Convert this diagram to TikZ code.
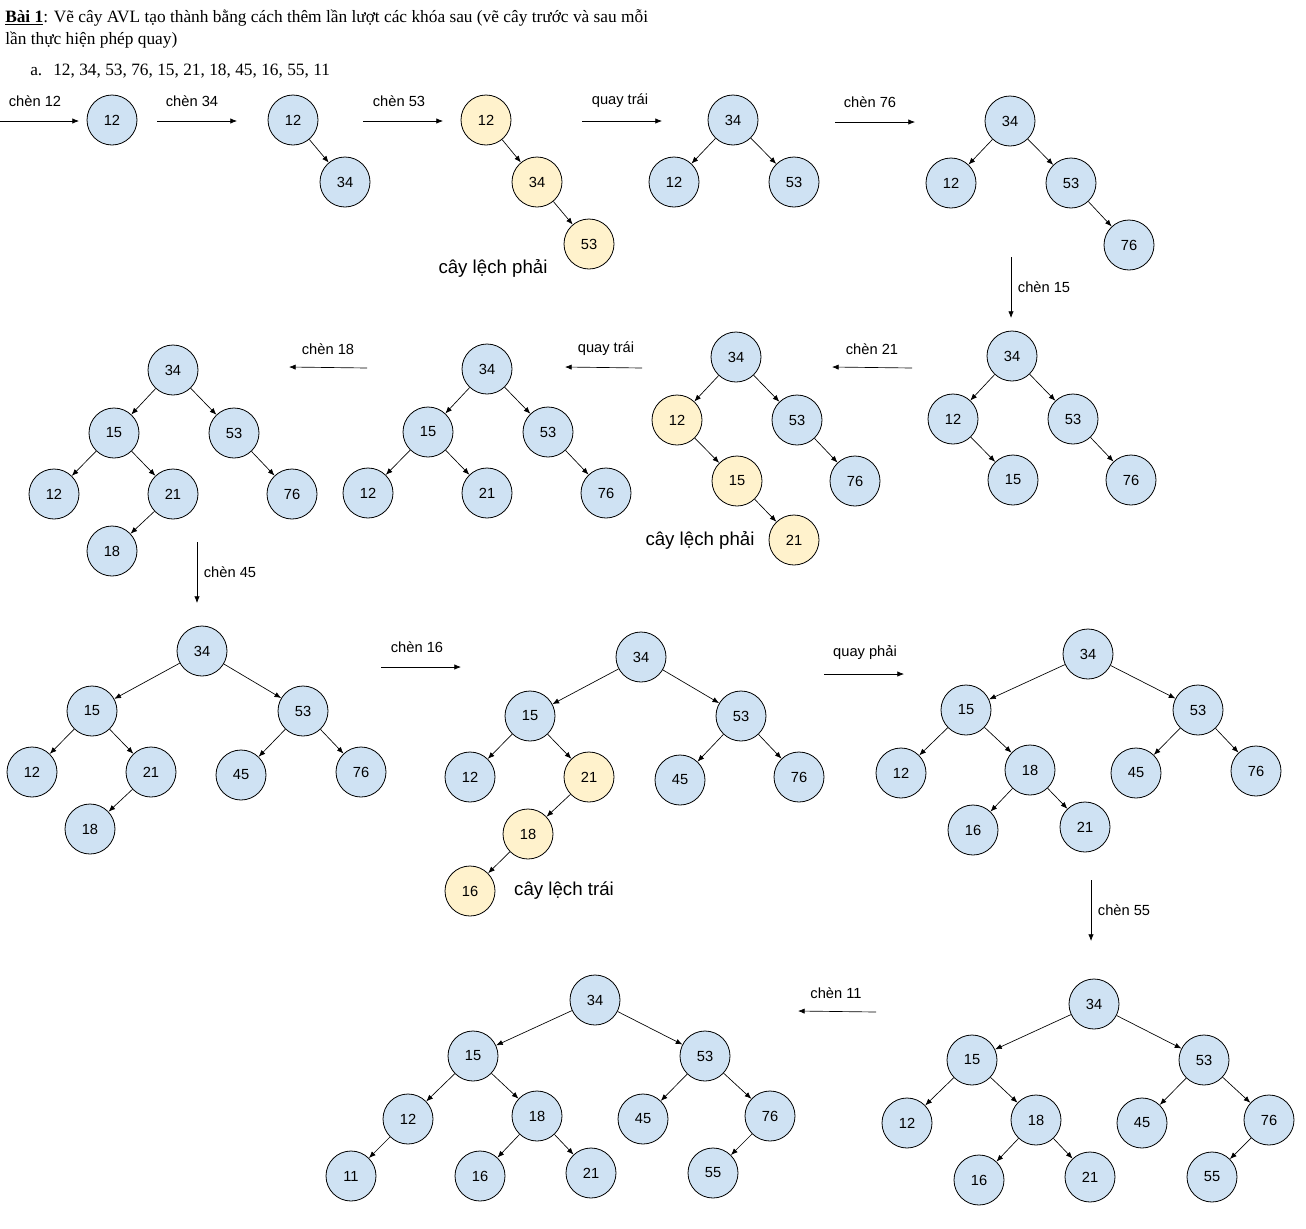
\documentclass[tikz,border=0pt]{standalone}
\usepackage{fontspec}
\setmainfont{Liberation Serif}
\newfontfamily\ar{Liberation Sans}
\usetikzlibrary{arrows.meta}
\definecolor{nblue}{HTML}{CFE2F3}
\definecolor{nyellow}{HTML}{FFF2CC}
\tikzset{
 nd/.style={circle, draw, line width=0.6pt, fill=nblue, minimum size=37.5pt, inner sep=0pt, font=\ar\fontsize{11}{13}\selectfont},
 hl/.style={nd, fill=nyellow},
 ed/.style={-{Latex[length=5pt,width=4pt]}, line width=0.5pt},
 lb/.style={font=\ar\fontsize{11}{13}\selectfont, inner sep=0pt},
 big/.style={font=\ar\fontsize{14}{16}\selectfont, inner sep=0pt},
 hd/.style={anchor=base west, inner sep=0pt, font=\fontsize{13}{15}\selectfont},
}
\begin{document}
\begin{tikzpicture}[x=0.75pt,y=-0.75pt]
\useasboundingbox (0,0) rectangle (1306,1228);
% header
\node[hd] (h1) at (5,22) {\textbf{\underline{Bài 1}}: Vẽ cây AVL tạo thành bằng cách thêm lần lượt các khóa sau (vẽ cây trước và sau mỗi};
\node[hd] (h2) at (5,44) {lần thực hiện phép quay)};
\node[hd] (h3) at (30,75) {a.};
\node[hd] (h4) at (53,75) {12, 34, 53, 76, 15, 21, 18, 45, 16, 55, 11};

% ---------- Row 1
\coordinate (s1a) at (0,121); \coordinate (s1b) at (79,121);
\draw[ed] (s1a) -- (s1b); \node[lb] (l1) at (35,101) {chèn 12};
\node[nd] (a1) at (112,120) {12};
\coordinate (s2a) at (157,121); \coordinate (s2b) at (237,121);
\draw[ed] (s2a) -- (s2b); \node[lb] (l2) at (192,101) {chèn 34};
\node[nd] (b1) at (293,120) {12};
\node[nd] (b2) at (345,182) {34};
\draw[ed] (b1) -- (b2);
\coordinate (s3a) at (363,121); \coordinate (s3b) at (443,121);
\draw[ed] (s3a) -- (s3b); \node[lb] (l3) at (399,101) {chèn 53};
\node[hl] (c1) at (486,120) {12};
\node[hl] (c2) at (537,182) {34};
\node[hl] (c3) at (589,244) {53};
\draw[ed] (c1) -- (c2); \draw[ed] (c2) -- (c3);
\node[big] (cl1) at (493,268) {cây lệch phải};
\coordinate (s4a) at (582,121); \coordinate (s4b) at (662,121);
\draw[ed] (s4a) -- (s4b); \node[lb] (l4) at (620,101) {quay trái};
\node[nd] (d1) at (733,120) {34};
\node[nd] (d2) at (674,182) {12};
\node[nd] (d3) at (794,182) {53};
\draw[ed] (d1) -- (d2); \draw[ed] (d1) -- (d3);
\coordinate (s5a) at (835,122); \coordinate (s5b) at (915,122);
\draw[ed] (s5a) -- (s5b); \node[lb] (l5) at (870,102) {chèn 76};
\node[nd] (e1) at (1010,121) {34};
\node[nd] (e2) at (951,183) {12};
\node[nd] (e3) at (1071,183) {53};
\node[nd] (e4) at (1129,245) {76};
\draw[ed] (e1) -- (e2); \draw[ed] (e1) -- (e3); \draw[ed] (e3) -- (e4);
\coordinate (s6a) at (1011,257); \coordinate (s6b) at (1011,318);
\draw[ed] (s6a) -- (s6b); \node[lb] (l6) at (1044,287) {chèn 15};

% ---------- Row 2
\node[nd] (f1) at (1012,356) {34};
\node[nd] (f2) at (953,419) {12};
\node[nd] (f3) at (1073,419) {53};
\node[nd] (f4) at (1013,480) {15};
\node[nd] (f5) at (1131,480) {76};
\draw[ed] (f1) -- (f2); \draw[ed] (f1) -- (f3); \draw[ed] (f2) -- (f4); \draw[ed] (f3) -- (f5);
\coordinate (s7a) at (912,368); \coordinate (s7b) at (832,367);
\draw[ed] (s7a) -- (s7b); \node[lb] (l7) at (872,349) {chèn 21};
\node[nd] (g1) at (736,357) {34};
\node[hl] (g2) at (677,420) {12};
\node[nd] (g3) at (797,420) {53};
\node[hl] (g4) at (737,481) {15};
\node[nd] (g5) at (855,481) {76};
\node[hl] (g6) at (794,540) {21};
\draw[ed] (g1) -- (g2); \draw[ed] (g1) -- (g3); \draw[ed] (g2) -- (g4); \draw[ed] (g3) -- (g5); \draw[ed] (g4) -- (g6);
\node[big] (cl2) at (700,540) {cây lệch phải};
\coordinate (s8a) at (642,368); \coordinate (s8b) at (565,367);
\draw[ed] (s8a) -- (s8b); \node[lb] (l8) at (606,349) {quay trái};
\node[nd] (h1n) at (487,369) {34};
\node[nd] (h2n) at (428,432) {15};
\node[nd] (h3n) at (548,432) {53};
\node[nd] (h4n) at (368,493) {12};
\node[nd] (h5n) at (487,493) {21};
\node[nd] (h6n) at (606,493) {76};
\draw[ed] (h1n) -- (h2n); \draw[ed] (h1n) -- (h3n); \draw[ed] (h2n) -- (h4n); \draw[ed] (h2n) -- (h5n); \draw[ed] (h3n) -- (h6n);
\coordinate (s9a) at (367,368); \coordinate (s9b) at (289,367);
\draw[ed] (s9a) -- (s9b); \node[lb] (l9) at (328,349) {chèn 18};
\node[nd] (i1) at (173,370) {34};
\node[nd] (i2) at (114,433) {15};
\node[nd] (i3) at (234,433) {53};
\node[nd] (i4) at (54,494) {12};
\node[nd] (i5) at (173,494) {21};
\node[nd] (i6) at (292,494) {76};
\node[nd] (i7) at (112,551) {18};
\draw[ed] (i1) -- (i2); \draw[ed] (i1) -- (i3); \draw[ed] (i2) -- (i4); \draw[ed] (i2) -- (i5); \draw[ed] (i3) -- (i6); \draw[ed] (i5) -- (i7);
\coordinate (s10a) at (197,542); \coordinate (s10b) at (197,603);
\draw[ed] (s10a) -- (s10b); \node[lb] (l10) at (230,572) {chèn 45};

% ---------- Row 3
\node[nd] (j1) at (202,651) {34};
\node[nd] (j2) at (92,711) {15};
\node[nd] (j3) at (303,711) {53};
\node[nd] (j4) at (32,772) {12};
\node[nd] (j5) at (151,772) {21};
\node[nd] (j6) at (241,775) {45};
\node[nd] (j7) at (361,772) {76};
\node[nd] (j8) at (90,829) {18};
\draw[ed] (j1) -- (j2); \draw[ed] (j1) -- (j3); \draw[ed] (j2) -- (j4); \draw[ed] (j2) -- (j5); \draw[ed] (j3) -- (j6); \draw[ed] (j3) -- (j7); \draw[ed] (j5) -- (j8);
\coordinate (s11a) at (381,667); \coordinate (s11b) at (461,667);
\draw[ed] (s11a) -- (s11b); \node[lb] (l11) at (417,647) {chèn 16};
\node[nd] (k1) at (641,657) {34};
\node[nd] (k2) at (530,716) {15};
\node[nd] (k3) at (741,716) {53};
\node[nd] (k4) at (470,777) {12};
\node[hl] (k5) at (589,777) {21};
\node[nd] (k6) at (680,780) {45};
\node[nd] (k7) at (799,777) {76};
\node[hl] (k8) at (528,834) {18};
\node[hl] (k9) at (470,891) {16};
\draw[ed] (k1) -- (k2); \draw[ed] (k1) -- (k3); \draw[ed] (k2) -- (k4); \draw[ed] (k2) -- (k5); \draw[ed] (k3) -- (k6); \draw[ed] (k3) -- (k7); \draw[ed] (k5) -- (k8); \draw[ed] (k8) -- (k9);
\node[big] (cl3) at (564,891) {cây lệch trái};
\coordinate (s12a) at (824,674); \coordinate (s12b) at (904,674);
\draw[ed] (s12a) -- (s12b); \node[lb] (l12) at (865,653) {quay phải};
\node[nd] (m1) at (1088,654) {34};
\node[nd] (m2) at (966,710) {15};
\node[nd] (m3) at (1198,710) {53};
\node[nd] (m4) at (901,773) {12};
\node[nd] (m5) at (1030,770) {18};
\node[nd] (m6) at (1136,773) {45};
\node[nd] (m7) at (1256,771) {76};
\node[nd] (m8) at (973,830) {16};
\node[nd] (m9) at (1085,827) {21};
\draw[ed] (m1) -- (m2); \draw[ed] (m1) -- (m3); \draw[ed] (m2) -- (m4); \draw[ed] (m2) -- (m5); \draw[ed] (m3) -- (m6); \draw[ed] (m3) -- (m7); \draw[ed] (m5) -- (m8); \draw[ed] (m5) -- (m9);
\coordinate (s13a) at (1091,880); \coordinate (s13b) at (1091,941);
\draw[ed] (s13a) -- (s13b); \node[lb] (l13) at (1124,910) {chèn 55};

% ---------- Row 4
\node[nd] (p1) at (1094,1004) {34};
\node[nd] (p2) at (972,1060) {15};
\node[nd] (p3) at (1204,1060) {53};
\node[nd] (p4) at (907,1123) {12};
\node[nd] (p5) at (1036,1120) {18};
\node[nd] (p6) at (1142,1123) {45};
\node[nd] (p7) at (1269,1120) {76};
\node[nd] (p8) at (979,1180) {16};
\node[nd] (p9) at (1090,1177) {21};
\node[nd] (p10) at (1212,1177) {55};
\draw[ed] (p1) -- (p2); \draw[ed] (p1) -- (p3); \draw[ed] (p2) -- (p4); \draw[ed] (p2) -- (p5); \draw[ed] (p3) -- (p6); \draw[ed] (p3) -- (p7); \draw[ed] (p5) -- (p8); \draw[ed] (p5) -- (p9); \draw[ed] (p7) -- (p10);
\coordinate (s14a) at (876,1012); \coordinate (s14b) at (798,1011);
\draw[ed] (s14a) -- (s14b); \node[lb] (l14) at (836,993) {chèn 11};
\node[nd] (q1) at (595,1000) {34};
\node[nd] (q2) at (473,1056) {15};
\node[nd] (q3) at (705,1056) {53};
\node[nd] (q4) at (408,1119) {12};
\node[nd] (q5) at (537,1116) {18};
\node[nd] (q6) at (643,1119) {45};
\node[nd] (q7) at (770,1116) {76};
\node[nd] (q8) at (351,1176) {11};
\node[nd] (q9) at (480,1176) {16};
\node[nd] (q10) at (591,1173) {21};
\node[nd] (q11) at (713,1173) {55};
\draw[ed] (q1) -- (q2); \draw[ed] (q1) -- (q3); \draw[ed] (q2) -- (q4); \draw[ed] (q2) -- (q5); \draw[ed] (q3) -- (q6); \draw[ed] (q3) -- (q7); \draw[ed] (q4) -- (q8); \draw[ed] (q5) -- (q9); \draw[ed] (q5) -- (q10); \draw[ed] (q7) -- (q11);
\end{tikzpicture}
\end{document}
